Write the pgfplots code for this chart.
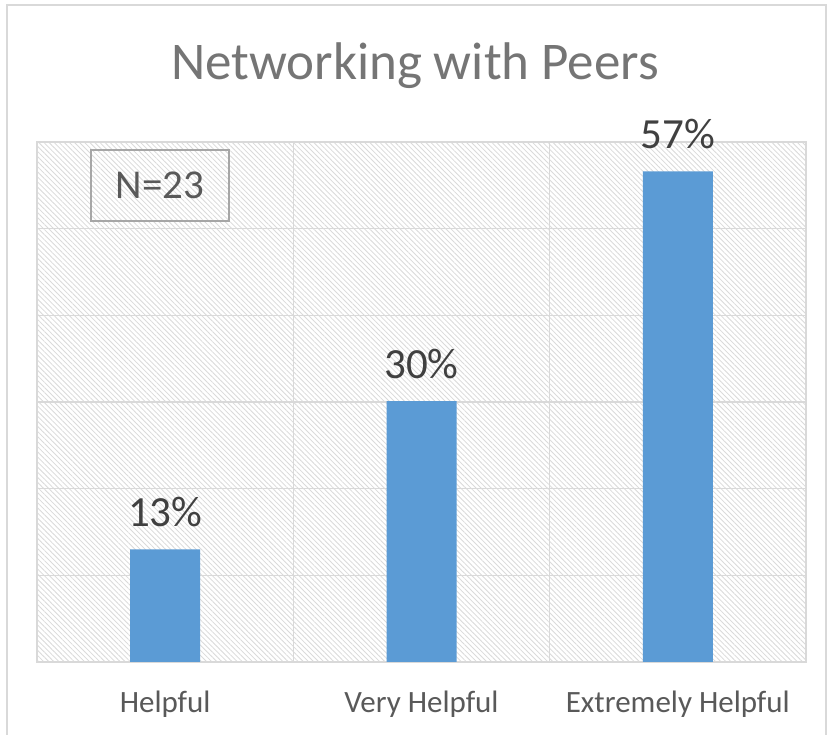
\documentclass[border=0pt]{standalone}
\usepackage{pgfplots}
\pgfplotsset{compat=1.18}
\usetikzlibrary{patterns.meta}
\usepackage{fontspec}
\setmainfont{Carlito}
\definecolor{barblue}{HTML}{5B9BD5}
\definecolor{gridc}{HTML}{D9D9D9}
\definecolor{hatchc}{HTML}{DADADA}
\definecolor{titlec}{HTML}{757575}
\definecolor{labc}{HTML}{404040}
\definecolor{catc}{HTML}{595959}
\begin{document}
\begin{tikzpicture}[x=1pt,y=1pt]
\useasboundingbox (0,0) rectangle (828,735);
\draw[line width=1.5pt, color=gridc] (7,-5) -- (7,730) -- (826,730) -- (826,-5);
\node[anchor=base, text=titlec, font=\fontsize{53}{60}\selectfont] at (415,655) {Networking with Peers};
\begin{axis}[
  at={(37pt,73pt)}, anchor=south west,
  width=769pt, height=520pt, scale only axis,
  xmin=-0.5, xmax=2.5, ymin=0, ymax=60,
  ytick={0,10,...,60}, yticklabels={},
  ymajorgrids,
  xtick={0,1,2},
  xticklabels={Helpful, Very Helpful, Extremely Helpful},
  extra x ticks={0.5,1.5}, extra x tick labels={},
  extra x tick style={xmajorgrids, grid style={gridc, line width=1.5pt}},
  major tick length=0pt,
  grid style={gridc, line width=1.5pt},
  axis line style={gridc, line width=1.5pt},
  axis background/.style={preaction={fill=white}, pattern={Lines[angle=-45,distance=3.6pt,line width=0.8pt]}, pattern color=hatchc},
  xticklabel style={anchor=base, yshift=-51pt, text=catc, font=\fontsize{31}{36}\selectfont},
  ybar, bar width=70pt,
  /pgf/number format/assume math mode=true,
  nodes near coords={\pgfmathprintnumber[fixed,precision=0]{\pgfplotspointmeta}\%},
  every node near coord/.append style={anchor=base, inner sep=0pt, yshift=23pt, text=labc, font=\fontsize{43}{50}\selectfont},
]
\addplot[fill=barblue, draw=none] coordinates {(0,13) (1,30.1) (2,56.6)};
\end{axis}
\node[draw=gray!70, line width=1.5pt, fill=none, minimum width=138pt, minimum height=71pt, inner sep=0pt, text=catc, font=\fontsize{41}{48}\selectfont] at (160,549.5) {N=23};
\end{tikzpicture}
\end{document}
